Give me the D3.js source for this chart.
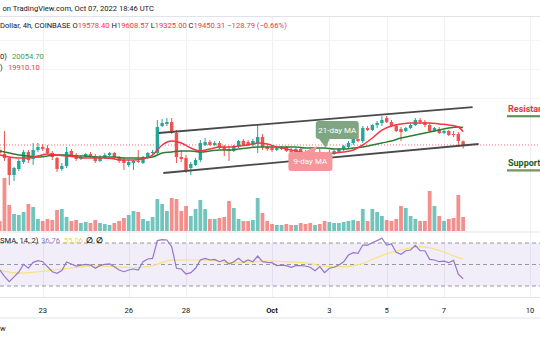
<!DOCTYPE html>
<html>
<head>
<meta charset="utf-8">
<script src="https://cdn.jsdelivr.net/npm/d3@7"></script>
<style>
  html, body { margin: 0; padding: 0; background: #fff; overflow: hidden; }
  text { font-family: Roboto, "Liberation Sans", sans-serif; }
</style>
</head>
<body>
<svg id="chart" width="540" height="340"></svg>
<script>
// ---- BTC/USD 4h bars, COINBASE ----
const firstBar = Date.UTC(2022, 8, 21, 12); // open time of the first 4h bar
const barHours = 4;

const opens = [19278,19140,19002,18415,18622,18864,19209,18967,19278,19381,
  19347,19174,19002,18622,18726,19243,19105,18967,19036,19140,
  19071,18898,19036,19105,19174,19036,18933,18760,18829,18898,
  18829,19036,19174,19174,20105,20174,20243,19864,19036,19002,
  18657,18760,18933,19450,19553,19450,19519,19381,19312,19243,
  19416,19588,19553,19450,19519,19726,19381,19347,19278,19312,
  19381,19243,19209,19312,19209,19174,19105,19209,19105,19002,
  19140,19209,19312,19381,19519,19657,19588,20036,19967,20140,
  20209,20381,20243,20105,20002,19933,20036,20140,20312,20243,
  20140,19933,20002,19864,19933,19829,19829,19578.40];
const highs = [19381,19933,19036,18691,18967,19278,19278,19519,19519,19484,
  19450,19243,19036,18829,19381,19312,19174,19105,19174,19209,
  19140,19105,19174,19209,19209,19071,19002,18933,18933,19278,
  19071,19209,19278,20312,20347,20381,20381,19967,19278,19105,
  18864,19002,19622,19691,19622,19588,19588,19450,19416,19450,
  19622,19657,19622,19657,20140,19829,19450,19416,19381,19416,
  19416,19347,19347,19347,19278,19278,19209,19312,19209,19278,
  19278,19347,19450,19588,19691,19760,20105,20105,20174,20278,
  20450,20450,20312,20174,20071,20071,20174,20381,20381,20312,
  20209,20071,20071,19967,19967,19933,19898,19608.57];
const lows = [19140,18898,18070,18208,18553,18795,18829,18760,19209,19243,
  19140,18933,18519,18553,18657,19036,18898,18933,19002,19002,
  18829,18864,18967,19071,18967,18829,18588,18691,18588,18829,
  18795,19002,19071,19140,20071,20105,19829,18829,18864,18484,
  18415,18726,18864,19416,19416,19416,19312,19071,18898,19209,
  19347,19416,19416,19381,19174,19278,19243,19209,19243,19278,
  19209,19174,19174,19071,19140,19002,19071,19071,18864,18933,
  19105,19174,19243,19347,19450,19553,19519,19933,19933,20036,
  20105,20209,20071,19898,19588,19898,20002,20105,20174,20071,
  19898,19898,19829,19829,19760,19726,19381,19325.00];
const closes = [19174,19002,18415,18657,18898,19209,18933,19278,19381,19312,
  19174,19036,18622,18726,19209,19105,18967,19036,19140,19071,
  18898,19036,19105,19174,19036,18898,18829,18864,18898,18864,
  19036,19174,19209,20071,20209,20243,19864,19036,18967,18588,
  18795,18933,19519,19553,19450,19519,19347,19278,19243,19416,
  19588,19450,19450,19588,19726,19381,19312,19278,19347,19381,
  19243,19209,19312,19174,19174,19105,19174,19105,19002,19174,
  19243,19312,19416,19519,19657,19588,20036,19967,20140,20209,
  20312,20243,20105,19933,19898,20036,20140,20312,20243,20140,
  19933,20036,19864,19933,19795,19795,19588,19450.31];
const volumes = [2000,10600,5200,3400,3200,3800,5400,4800,2400,2000,
  2400,2200,4200,4400,2800,2000,2200,1600,1800,1600,
  2200,1600,1400,1200,1600,2000,2600,3200,4000,3800,
  2400,2000,2800,6400,5400,4000,6600,6400,4000,5000,
  3000,4400,6200,4400,2400,2400,2600,2800,6000,4600,
  2400,2000,2000,2200,6600,3600,2000,1400,1200,1200,
  1400,1200,1200,1600,1400,1600,1200,1400,2000,1800,
  1600,1600,1800,2000,2200,2000,4400,2000,4400,3800,
  3000,2200,2000,2400,5000,4600,3000,2400,2000,2000,
  8000,5000,3000,2000,2400,2600,7200,2800];

// moving averages, sampled every second bar (last entry = last bar)
const ma9 = [19105,19036,19002,19002,19071,19140,19105,19071,19036,19002,
  19002,19002,18967,18933,18933,18967,19105,19450,19588,19519,
  19347,19243,19312,19381,19381,19416,19450,19519,19484,19381,
  19312,19243,19174,19174,19140,19174,19209,19278,19450,19691,
  19967,20105,20174,20209,20209,20209,20174,20140,20071,19910.10];
const ma21 = [19243,19174,19105,19071,19036,19071,19105,19105,19071,19071,
  19036,19036,19036,19002,19002,19002,19036,19174,19209,19243,
  19243,19209,19243,19278,19278,19312,19347,19381,19381,19381,
  19381,19381,19347,19347,19347,19312,19312,19347,19381,19450,
  19519,19588,19691,19760,19829,19898,19967,20036,20071,20054.70];

// RSI(14) per bar, and its SMA(14) sampled every fourth bar
const rsi = [44.9,39.0,34.0,38.5,43.0,50.2,46.5,52.0,53.5,52.6,
  48.0,43.3,41.8,44.3,52.3,50.5,48.6,49.5,50.2,49.5,
  46.5,48.9,50.2,50.5,48.0,44.9,43.3,44.9,45.8,44.9,
  52.6,55.1,55.7,72.2,73.1,72.8,66.6,46.5,45.8,41.2,
  42.4,46.5,54.2,55.7,54.2,54.8,52.6,54.2,50.5,52.6,
  55.7,52.0,54.2,52.6,57.9,52.6,52.0,51.7,48.9,49.5,
  48.9,47.4,48.9,48.9,48.6,47.4,44.3,48.0,42.4,46.5,
  47.4,49.5,52.5,58.8,61.0,60.4,68.1,68.1,70.3,72.2,
  74.4,68.1,69.1,61.3,59.5,62.8,63.5,67.8,62.8,62.8,
  54.8,54.2,52.6,53.2,51.7,53.8,40.9,36.76];
const rsiMa = [44.9,42.0,43.2,45.2,47.2,48.7,48.1,47.0,49.0,54.0,
  54.2,54.0,51.7,52.0,53.3,52.4,51.6,48.5,48.0,51.1,
  58.5,63.5,66.6,63.0,56.5,55.06];

// axis ticks
const tickDates = [[2022,8,23],[2022,8,26],[2022,8,28],[2022,9,1],[2022,9,3],[2022,9,5],[2022,9,7],[2022,9,10]];
const tickLabels = ["23","26","28","Oct","3","5","7","10"];
const priceGrid = [21000, 22000, 23000];

// drawn channel (trend lines) and levels
const channelUpper = [[Date.UTC(2022,8,27,1), 19864], [Date.UTC(2022,9,8,0), 20761]];
const channelLower = [[Date.UTC(2022,8,27,5), 18484], [Date.UTC(2022,9,8,5), 19484]];
const resistanceLevel = 20650;
const supportLevel = 18780;
const lastPrice = 19450.31;

// ---- build ----
const bars = opens.map((o, i) => ({
  t: new Date(firstBar + i * barHours * 3600e3),
  o, h: highs[i], l: lows[i], c: closes[i], v: volumes[i], r: rsi[i]
}));
const maIdx = d3.range(0, bars.length - 1, 2).concat([bars.length - 1]);
const rsiMaIdx = d3.range(0, bars.length - 1, 4).concat([bars.length - 1]);

const svg = d3.select("#chart");
const x = d3.scaleTime()
  .domain([new Date(Date.UTC(2022, 8, 23)), new Date(Date.UTC(2022, 9, 10))])
  .range([42.7, 530]);
const y = d3.scaleLinear().domain([18000, 21000]).range([187, 100.1]);
const yv = d3.scaleLinear().domain([0, 10000]).range([231, 181]);
const yr = d3.scaleLinear().domain([30, 70]).range([286, 243]);

const UP = "#26a69a", DOWN = "#ef5350";

// clip regions
const defs = svg.append("defs");
defs.append("clipPath").attr("id", "mainClip").append("rect")
  .attr("x", 0).attr("y", 17).attr("width", 540).attr("height", 214);
defs.append("clipPath").attr("id", "rsiClip").append("rect")
  .attr("x", 0).attr("y", 233).attr("width", 540).attr("height", 64);

// header
svg.append("text").attr("x", 2.5).attr("y", 11).attr("font-size", 7.6).attr("fill", "#131722")
  .text("on TradingView.com, Oct 07, 2022 18:46 UTC");
svg.append("line").attr("x1", 0).attr("x2", 540).attr("y1", 16.5).attr("y2", 16.5)
  .attr("stroke", "#e0e3eb").attr("stroke-width", 1);

// grid
const grid = svg.append("g");
grid.selectAll("line.v").data(tickDates).join("line")
  .attr("x1", d => Math.round(x(new Date(Date.UTC(...d)))) + 0.5)
  .attr("x2", d => Math.round(x(new Date(Date.UTC(...d)))) + 0.5)
  .attr("y1", 17).attr("y2", 297)
  .attr("stroke", "#eef0f5").attr("stroke-width", 1);
grid.selectAll("line.h").data(priceGrid).join("line")
  .attr("x1", 0).attr("x2", 540)
  .attr("y1", d => Math.round(y(d)) - 1.5).attr("y2", d => Math.round(y(d)) - 1.5)
  .attr("stroke", "#f3f4f8").attr("stroke-width", 1);

// main pane
const main = svg.append("g").attr("clip-path", "url(#mainClip)");

// volume
main.append("g").selectAll("rect").data(bars).join("rect")
  .attr("x", d => x(d.t) - 1.9)
  .attr("width", 3.8)
  .attr("y", d => yv(d.v))
  .attr("height", d => yv(0) - yv(d.v))
  .attr("fill", d => d.c >= d.o ? UP : DOWN)
  .attr("opacity", 0.65);

// last price line
main.append("line").attr("x1", 0).attr("x2", 540)
  .attr("y1", y(lastPrice)).attr("y2", y(lastPrice))
  .attr("stroke", "#f23645").attr("stroke-opacity", 0.7)
  .attr("stroke-width", 1).attr("stroke-dasharray", "1,2");

// candles
const cg = main.append("g");
cg.selectAll("line").data(bars).join("line")
  .attr("x1", d => x(d.t)).attr("x2", d => x(d.t))
  .attr("y1", d => y(d.h)).attr("y2", d => y(d.l))
  .attr("stroke", d => d.c >= d.o ? UP : DOWN).attr("stroke-width", 1);
cg.selectAll("rect").data(bars).join("rect")
  .attr("x", d => x(d.t) - 1.7).attr("width", 3.4)
  .attr("y", d => Math.min(y(d.o), y(d.c)))
  .attr("height", d => Math.max(1, Math.abs(y(d.o) - y(d.c))))
  .attr("fill", d => d.c >= d.o ? UP : DOWN);

// moving averages
const maLine = d3.line().x(d => x(d[0])).y(d => y(d[1])).curve(d3.curveMonotoneX);
main.append("path").datum(maIdx.map((b, k) => [bars[b].t, ma21[k]]))
  .attr("d", maLine).attr("fill", "none").attr("stroke", "#2e7d32").attr("stroke-width", 1.5);
main.append("path").datum(maIdx.map((b, k) => [bars[b].t, ma9[k]]))
  .attr("d", maLine).attr("fill", "none").attr("stroke", "#f23645").attr("stroke-width", 1.5);

// channel
const chLine = d3.line().x(d => x(new Date(d[0]))).y(d => y(d[1]));
[channelUpper, channelLower].forEach(c => {
  main.append("path").datum(c).attr("d", chLine)
    .attr("stroke", "#4a4a4a").attr("stroke-width", 1.8).attr("fill", "none");
});

// MA callouts
function callout(g, tip, box, fill, label) {
  const [tx, ty] = tip;
  const bx = tx + box.dx, by = ty + box.dy, bw = box.w, bh = box.h;
  g.append("rect").attr("x", bx).attr("y", by).attr("width", bw).attr("height", bh)
    .attr("rx", 3).attr("fill", fill);
  const base = box.dy < 0 ? by + bh - 0.5 : by + 0.5;
  g.append("path")
    .attr("d", `M${tx},${ty} L${bx + box.p0},${base} L${bx + box.p1},${base} Z`)
    .attr("fill", fill);
  g.append("text").attr("x", bx + bw / 2).attr("y", by + bh / 2 + 2.8)
    .attr("text-anchor", "middle").attr("font-size", 8).attr("fill", "#fff").text(label);
}
const annot = svg.append("g");
callout(annot, [x(new Date(Date.UTC(2022, 9, 2, 21))), y(19347)],
  { dx: -10, dy: -27, w: 43, h: 18, p0: 3, p1: 14 }, "#7fa682", "21-day MA");
callout(annot, [x(new Date(Date.UTC(2022, 9, 2, 14))), y(19416)],
  { dx: -29, dy: 6, w: 44, h: 19, p0: 14, p1: 26 }, "#f4969a", "9-day MA");

// support / resistance labels
const lev = svg.append("g");
lev.append("text").attr("x", 508).attr("y", y(resistanceLevel) + 2)
  .attr("font-size", 9).attr("font-weight", "bold").attr("fill", "#e53935").text("Resistance");
lev.append("line").attr("x1", 507).attr("x2", 540)
  .attr("y1", y(resistanceLevel) + 5.5).attr("y2", y(resistanceLevel) + 5.5)
  .attr("stroke", "#e53935").attr("stroke-width", 1);
lev.append("line").attr("x1", 507).attr("x2", 540)
  .attr("y1", y(resistanceLevel) + 6.5).attr("y2", y(resistanceLevel) + 6.5)
  .attr("stroke", "#2e7d32").attr("stroke-width", 1);
lev.append("text").attr("x", 508).attr("y", y(supportLevel) + 2)
  .attr("font-size", 9).attr("font-weight", "bold").attr("fill", "#1b5e20").text("Support");
lev.append("line").attr("x1", 507).attr("x2", 540)
  .attr("y1", y(supportLevel) + 5.5).attr("y2", y(supportLevel) + 5.5)
  .attr("stroke", "#e53935").attr("stroke-width", 1);
lev.append("line").attr("x1", 507).attr("x2", 540)
  .attr("y1", y(supportLevel) + 6.5).attr("y2", y(supportLevel) + 6.5)
  .attr("stroke", "#2e7d32").attr("stroke-width", 1);

// legends
const leg = svg.append("text").attr("x", 0).attr("y", 28).attr("font-size", 7.6).attr("fill", "#131722");
leg.append("tspan").text("Dollar, 4h, COINBASE  ");
[["O", "19578.40"], ["H", "19608.57"], ["L", "19325.00"], ["C", "19450.31"]].forEach(([k, v]) => {
  leg.append("tspan").attr("fill", "#131722").text(k);
  leg.append("tspan").attr("fill", "#f23645").text(v + " ");
});
leg.append("tspan").attr("fill", "#f23645").text("\u2212128.79 (\u22120.66%)");

const l21 = svg.append("text").attr("x", 0).attr("y", 59).attr("font-size", 7.6).attr("fill", "#131722");
l21.append("tspan").text("0)");
l21.append("tspan").attr("x", 12).attr("fill", "#43a047").text("20054.70");
const l9 = svg.append("text").attr("x", 0).attr("y", 70).attr("font-size", 7.6).attr("fill", "#131722");
l9.append("tspan").text(")");
l9.append("tspan").attr("x", 8).attr("fill", "#f23645").text("19910.10");

// pane separator
svg.append("line").attr("x1", 0).attr("x2", 540).attr("y1", 232).attr("y2", 232)
  .attr("stroke", "#e0e3eb").attr("stroke-width", 1);

// RSI pane
const rp = svg.append("g").attr("clip-path", "url(#rsiClip)");
rp.append("rect").attr("x", 0).attr("width", 540)
  .attr("y", yr(70)).attr("height", yr(30) - yr(70))
  .attr("fill", "#7e57c2").attr("fill-opacity", 0.1);
[70, 50, 30].forEach(v => {
  rp.append("line").attr("x1", 0).attr("x2", 540).attr("y1", yr(v)).attr("y2", yr(v))
    .attr("stroke", "#9598a1").attr("stroke-width", 1).attr("stroke-dasharray", "4,3");
});
rp.append("path").datum(rsiMaIdx.map((b, k) => [bars[b].t, rsiMa[k]]))
  .attr("d", d3.line().x(d => x(d[0])).y(d => yr(d[1])).curve(d3.curveMonotoneX))
  .attr("fill", "none").attr("stroke", "#f7e27e").attr("stroke-width", 1.2);
rp.append("path").datum(bars)
  .attr("d", d3.line().x(d => x(d.t)).y(d => yr(d.r)))
  .attr("fill", "none").attr("stroke", "#9575cd").attr("stroke-width", 1.2);

const rl = svg.append("text").attr("x", 0).attr("y", 243).attr("font-size", 7.6).attr("fill", "#131722");
rl.append("tspan").text("SMA, 14, 2)");
rl.append("tspan").attr("x", 41).attr("fill", "#9575cd").text("36.76");
rl.append("tspan").attr("x", 64).attr("fill", "#f2d65c").text("55.06");
rl.append("tspan").attr("x", 86).attr("font-weight", "bold").text("\u2205");
rl.append("tspan").attr("x", 96).attr("font-weight", "bold").text("\u2205");

// time axis
svg.append("line").attr("x1", 0).attr("x2", 540).attr("y1", 297.5).attr("y2", 297.5)
  .attr("stroke", "#e0e3eb").attr("stroke-width", 1);
svg.append("g").selectAll("text").data(tickDates).join("text")
  .attr("x", d => x(new Date(Date.UTC(...d))))
  .attr("y", 313)
  .attr("text-anchor", "middle").attr("font-size", 7.6).attr("fill", "#131722")
  .attr("font-weight", (d, i) => tickLabels[i] === "Oct" ? "bold" : "normal")
  .text((d, i) => tickLabels[i]);
svg.append("line").attr("x1", 0).attr("x2", 540).attr("y1", 318).attr("y2", 318)
  .attr("stroke", "#e0e3eb").attr("stroke-width", 1);
svg.append("text").attr("x", 0).attr("y", 331).attr("font-size", 7.6).attr("fill", "#131722").text("w");
</script>
</body>
</html>
